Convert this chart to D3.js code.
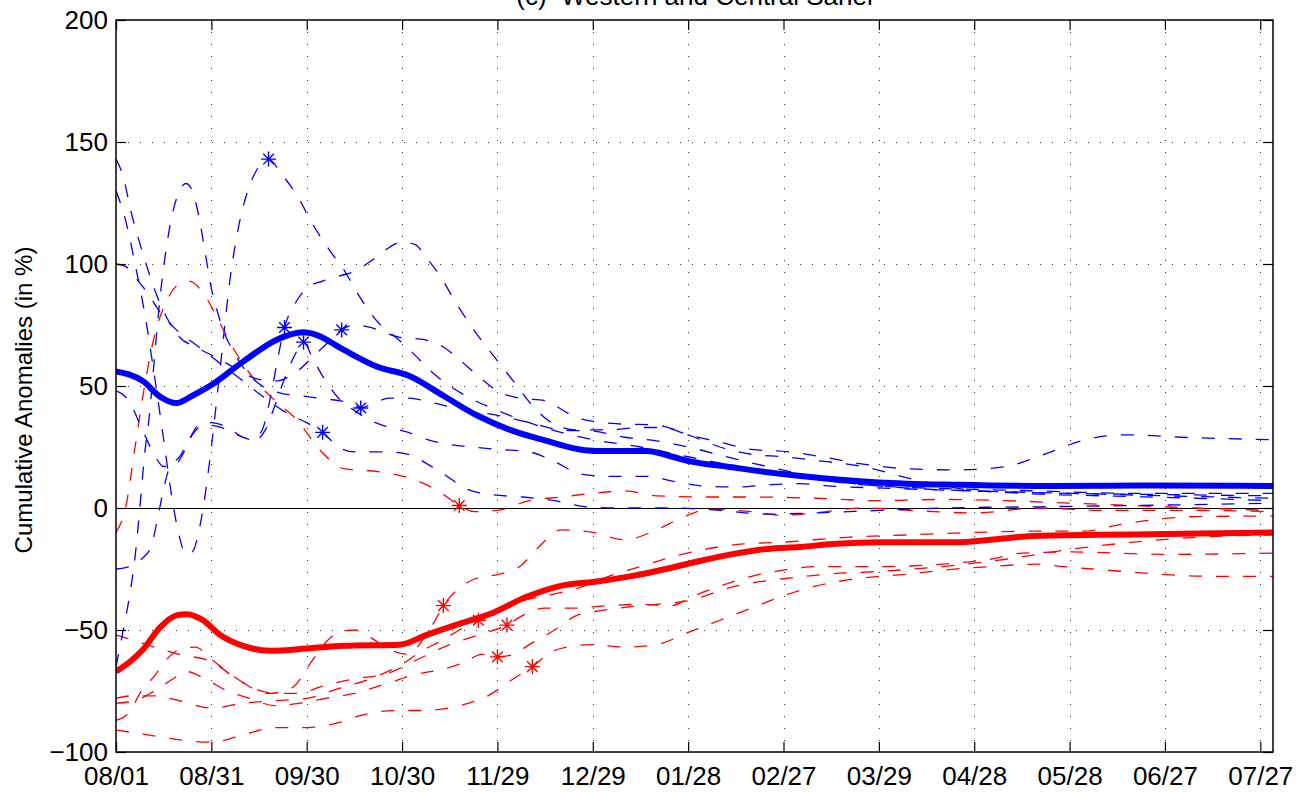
<!DOCTYPE html>
<html>
<head>
<meta charset="utf-8">
<script src="https://cdn.jsdelivr.net/npm/d3@7"></script>
<style>
  html, body { margin: 0; padding: 0; background: #fff; }
  svg { display: block; }
  text { font-family: "Liberation Sans", Arial, Helvetica, sans-serif; fill: #000; }
</style>
</head>
<body>
<svg id="chart" width="1298" height="792"></svg>
<script>
// ---------------- DATA (day offset from 08/01, value in %) ----------------
const titleText = "(c)  Western and Central Sahel";
const yLabelText = "Cumulative Anomalies (in %)";
const xTickDays = [0, 30, 60, 90, 120, 150, 180, 210, 240, 270, 300, 330, 360];
const xTickLabels = ["08/01","08/31","09/30","10/30","11/29","12/29","01/28","02/27","03/29","04/28","05/28","06/27","07/27"];
const yTicks = [-100, -50, 0, 50, 100, 150, 200];

const blueMean = [[0,56],[8.5,52],[14,45.5],[19,43],[24,46],[29.5,50],[40,60],[50.6,69],[58.8,72],[63,71],[71.4,65],[82,58],[92.5,54],[103,46],[113.5,38],[124,32],[135.5,27.5],[146,24],[151,23.4],[167,23.4],[175,21],[181,19],[192,17],[209,14],[224,12],[240,10.5],[265,9.5],[294,9],[325,9.2],[364,9]];
const redMean = [[0,-67],[4.4,-63],[8.5,-58],[13.8,-49],[19,-44],[22.3,-43.5],[27.4,-46],[32.7,-52],[40,-56.5],[48.4,-58.5],[61,-57.5],[71.4,-56.5],[89.3,-56],[97.8,-52],[108,-47.5],[118.5,-43],[129,-36.5],[139.6,-32],[152,-30],[162.6,-27.8],[173,-25],[183.6,-21.7],[194,-18.9],[204.7,-16.8],[215,-16],[225.5,-14.8],[241,-14],[265,-14],[288,-11.5],[309,-11],[330,-10.7],[364,-10]];

const blue1 = [[0,130],[3,118],[6,100],[9,80],[12,55],[15,28],[17.5,5],[20,-12],[22,-19],[24,-18],[26,-10],[28,5],[30,25],[33,60],[36,95],[39,118],[42,132],[45,140],[48,143],[52,137],[57,128],[62,116],[67,106],[72,97],[76,88],[80,80],[84,74],[88,70],[93,64],[100,55],[110,46],[120,40],[130,35],[140,31],[150,28],[165,25],[180,21],[200,16],[220,12],[240,9],[270,7],[300,6],[330,5.5],[364,5]];
const blue2 = [[0,48],[4,44],[8,33],[12,22],[15,17],[18,17],[21,22],[24,30],[28,34],[33,33],[38,30],[43,28],[46,32],[49,48],[51,62],[53,74],[56,83],[60,90],[65,93],[70,95],[75,97],[80,101],[85,106],[90,109],[94,108],[98,102],[102,95],[107,84],[112,74],[119,62],[125,52],[131,42],[137,35],[145,32],[155,32],[165,33],[172,33],[180,30],[190,27],[200,24],[212,23],[222,21],[235,18],[250,16],[265,15.6],[280,17],[292,22],[305,28],[318,30],[335,29],[364,28]];
const blue3 = [[0,143],[2,137],[5,120],[9,102],[12,90],[16,78],[20,70],[25,66],[31,62],[38,57],[44,53],[50,52],[56,55],[62,62],[66,67],[71,73],[75,75],[80,74],[89,70],[97,69],[103,66],[107,62],[114,54],[120,48],[127,45],[135,44],[142,39],[148,36],[158,34.5],[170,34],[180,30],[190,25],[200,22],[210,21],[220,19.5],[235,17],[250,12],[265,8],[285,6],[310,5],[340,4],[364,3]];
const blue4 = [[0,100],[3,99],[7,93],[10,88],[14,80],[19,73],[25,67],[32,60],[40,52],[48,44],[55,38],[60,35],[65,31],[70,25],[75,23],[85,23],[92,22],[98,18],[103,14],[110,8],[118,5.5],[128,4.5],[138,3],[148,0.5],[160,0],[175,0],[190,-1],[205,-2.5],[220,-2],[240,-1],[260,0],[290,0.5],[320,1],[364,2]];
const blue5 = [[0,-25],[4,-24],[8,-21],[11,-16],[13,-5],[15,8],[17,17],[20,21],[23,28],[26,34],[30,35],[35,33],[40,29],[44,28],[47,32],[50,42],[53,53],[56,62],[59,68],[62,61],[66,52],[70,45],[75,40],[80,36],[86,33],[92,31],[98,28],[105,26],[112,25],[120,24],[130,23],[138,19],[146,14],[155,13],[168,13],[175,11],[185,9],[195,8.6],[205,9.5],[215,10],[225,9],[245,8],[270,7],[300,6],[330,5],[364,4]];
const blue6 = [[0,-65],[2,-52],[4,-38],[6,-20],[7.5,0],[9,22],[10.5,38],[12,60],[14,88],[16,108],[18,122],[20,130],[22,133],[24,130],[26,120],[28,105],[30,90],[32,80],[34,72],[37,64],[41,56],[46,50],[52,47],[58,46],[64,45],[70,44],[74,43],[77,41],[81,43],[86,45],[92,45],[100,43],[110,40],[120,38],[130,35],[140,32],[150,31.5],[160,29],[170,27.5],[180,25],[195,20],[210,15.5],[225,11],[240,9],[260,8],[290,7],[320,6],[364,6]];

const red1 = [[0,-10],[3,0],[6,25],[9,50],[12,70],[16,85],[20,92],[23,93],[28,87],[33,75],[38,63],[44,52],[50,44],[57,36],[64,24],[72,16],[82,15],[93,12],[102,6.5],[108,1],[113,-1.5],[120,-1],[130,3],[140,4.5],[150,6],[160,7],[170,5],[185,4.5],[200,4.5],[220,4],[240,3],[260,3.5],[280,3],[300,2],[320,1],[340,0],[364,-1]];
const red2 = [[0,-52],[5,-54],[12,-57],[20,-60],[30,-63],[38,-70],[48,-76],[55,-74],[62,-62],[66,-55],[70,-51],[75,-50],[80,-53],[86,-58],[92,-60],[97,-53],[100,-47],[103,-40],[107,-34],[113,-29],[121,-27],[127,-24],[133,-16],[140,-9],[150,-10],[160,-13],[170,-9],[178,-4],[187,-0.5],[200,-1.5],[210,-3],[220,-2],[235,0],[250,-1],[270,-2],[290,0],[310,-1],[340,-1],[364,-1.5]];
const red3 = [[0,-78],[5,-77],[12,-77],[20,-79],[30,-82],[40,-80],[50,-79],[60,-78],[70,-74],[80,-70],[90,-64],[97,-58],[103,-54],[108,-50],[114,-46],[120,-42],[128,-38],[135,-36],[145,-33],[155,-28],[165,-24],[175,-20],[185,-17],[195,-15],[210,-14],[230,-12],[250,-11],[270,-10],[290,-9.5],[305,-9.5],[315,-7],[325,-5],[340,-3.5],[364,-3.3]];
const red4 = [[0,-87],[4,-84],[8,-75],[12,-69],[16,-62],[20,-58],[25,-57],[30,-62],[36,-68],[42,-73],[50,-76],[57,-76],[65,-73],[75,-70],[85,-68],[95,-62],[105,-56],[114,-52],[123,-48],[128,-44],[135,-41],[145,-41],[155,-40],[165,-39.5],[175,-40],[180,-37],[190,-32],[200,-28],[210,-25.5],[220,-24],[240,-24],[260,-23],[275,-21],[285,-18.5],[300,-18],[330,-19],[364,-18.5]];
const red5 = [[0,-80],[6,-79],[12,-75],[18,-70],[22,-67],[28,-70],[35,-75],[42,-78],[50,-81],[58,-80],[66,-78],[75,-76],[85,-72],[95,-68],[103,-66],[110,-63],[115,-60],[120,-61],[125,-60],[130,-56],[138,-50],[145,-44],[153,-42],[165,-40],[180,-38],[195,-32],[210,-29],[225,-27],[240,-26],[260,-24],[280,-21],[300,-17],[320,-14],[340,-12],[364,-11]];
const red6 = [[0,-91],[10,-93],[20,-95],[30,-96],[40,-93],[50,-90],[60,-90],[70,-88],[77,-85],[88,-83],[97,-83],[108,-81],[117,-77],[125,-70],[131,-65],[137,-59],[142,-57],[150,-56],[160,-57],[170,-56],[180,-51],[190,-46],[200,-41],[210,-36],[220,-32],[230,-29.5],[240,-28],[250,-27],[260,-25.5],[275,-24],[290,-23],[298,-24],[307,-25],[317,-26],[327,-27],[345,-28],[364,-28]];

const blueStarDays = [48, 53, 59, 65, 71, 77];
const blueStarVals = [143, 74, 68, 31, 73, 41];
const redStarDays = [103, 108, 114, 120, 123, 131];
const redStarVals = [-40, 1, -46, -61, -48, -65];

const blueSeries = [blue1, blue2, blue3, blue4, blue5, blue6];
const redSeries = [red1, red2, red3, red4, red5, red6];

// ---------------- LAYOUT ----------------
const L = 116, R = 1273, T = 20, B = 752;
const BLUE = "#0000ff", RED = "#ff0000";

const svg = d3.select("#chart");
const x = d3.scaleLinear().domain([0, 364]).range([L, R]);
const y = d3.scaleLinear().domain([-100, 200]).range([B, T]);

svg.append("defs").append("clipPath").attr("id", "clip")
  .append("rect").attr("x", L).attr("y", T).attr("width", R - L).attr("height", B - T);

// grid
const grid = svg.append("g").attr("stroke", "#333").attr("stroke-width", 1).attr("stroke-dasharray", "1,11");
grid.selectAll("line.gx").data(xTickDays.slice(1)).join("line")
  .attr("x1", d => Math.round(x(d)) + 0.5).attr("x2", d => Math.round(x(d)) + 0.5)
  .attr("y1", T).attr("y2", B);
grid.selectAll("line.gy").data(yTicks.filter(v => v !== -100 && v !== 200)).join("line")
  .attr("y1", d => Math.round(y(d)) + 0.5).attr("y2", d => Math.round(y(d)) + 0.5)
  .attr("x1", L).attr("x2", R);

const plot = svg.append("g").attr("clip-path", "url(#clip)");

// zero line
plot.append("line").attr("x1", L).attr("x2", R)
  .attr("y1", Math.round(y(0)) + 0.5).attr("y2", Math.round(y(0)) + 0.5)
  .attr("stroke", "#000").attr("stroke-width", 1.2);

const line = d3.line().x(d => x(d[0])).y(d => y(d[1])).curve(d3.curveMonotoneX);

plot.selectAll("path.rd").data(redSeries).join("path")
  .attr("d", line).attr("fill", "none").attr("stroke", RED)
  .attr("stroke-width", 1.3).attr("stroke-dasharray", "13,14");
plot.selectAll("path.bd").data(blueSeries).join("path")
  .attr("d", line).attr("fill", "none").attr("stroke", BLUE)
  .attr("stroke-width", 1.3).attr("stroke-dasharray", "13,14");

plot.append("path").datum(blueMean).attr("d", line).attr("fill", "none")
  .attr("stroke", BLUE).attr("stroke-width", 6).attr("stroke-linejoin", "round");
plot.append("path").datum(redMean).attr("d", line).attr("fill", "none")
  .attr("stroke", RED).attr("stroke-width", 6).attr("stroke-linejoin", "round");

// asterisk markers
function star(g, cx, cy, color) {
  const r = 7.5, q = 5.3;
  const p = `M${cx - r},${cy}L${cx + r},${cy}M${cx},${cy - r}L${cx},${cy + r}` +
            `M${cx - q},${cy - q}L${cx + q},${cy + q}M${cx - q},${cy + q}L${cx + q},${cy - q}`;
  g.append("path").attr("d", p).attr("stroke", color).attr("stroke-width", 1.4).attr("fill", "none");
}
const stars = svg.append("g");
blueStarDays.forEach((d, i) => star(stars, x(d), y(blueStarVals[i]), BLUE));
redStarDays.forEach((d, i) => star(stars, x(d), y(redStarVals[i]), RED));

// axes
const fs = 26;
const xb = svg.append("g").attr("transform", `translate(0,${B})`)
  .call(d3.axisBottom(x).tickValues(xTickDays).tickFormat((d, i) => xTickLabels[i])
    .tickSizeInner(-10).tickSizeOuter(0).tickPadding(15));
const xt = svg.append("g").attr("transform", `translate(0,${T})`)
  .call(d3.axisTop(x).tickValues(xTickDays).tickFormat("").tickSizeInner(-10).tickSizeOuter(0));
const yl = svg.append("g").attr("transform", `translate(${L},0)`)
  .call(d3.axisLeft(y).tickValues(yTicks).tickFormat(d => d < 0 ? "\u2212" + Math.abs(d) : d)
    .tickSizeInner(-10).tickSizeOuter(0).tickPadding(8));
const yr = svg.append("g").attr("transform", `translate(${R},0)`)
  .call(d3.axisRight(y).tickValues(yTicks).tickFormat("").tickSizeInner(-10).tickSizeOuter(0));
[xb, xt, yl, yr].forEach(g => {
  g.select(".domain").remove();
  g.selectAll(".tick line").attr("stroke", "#000").attr("stroke-width", 1.2);
  g.selectAll("text").attr("font-size", fs).attr("font-family", "Liberation Sans, Arial, sans-serif").attr("fill", "#000");
});

// frame
svg.append("rect").attr("x", L).attr("y", T).attr("width", R - L).attr("height", B - T)
  .attr("fill", "none").attr("stroke", "#000").attr("stroke-width", 1.5);

// labels
svg.append("text").attr("transform", `translate(32,400) rotate(-90)`)
  .attr("text-anchor", "middle").attr("font-size", 24).text(yLabelText);
svg.append("text").attr("x", (L + R) / 2).attr("y", 5).attr("text-anchor", "middle")
  .attr("font-size", fs).style("white-space", "pre").text(titleText);
</script>
</body>
</html>
